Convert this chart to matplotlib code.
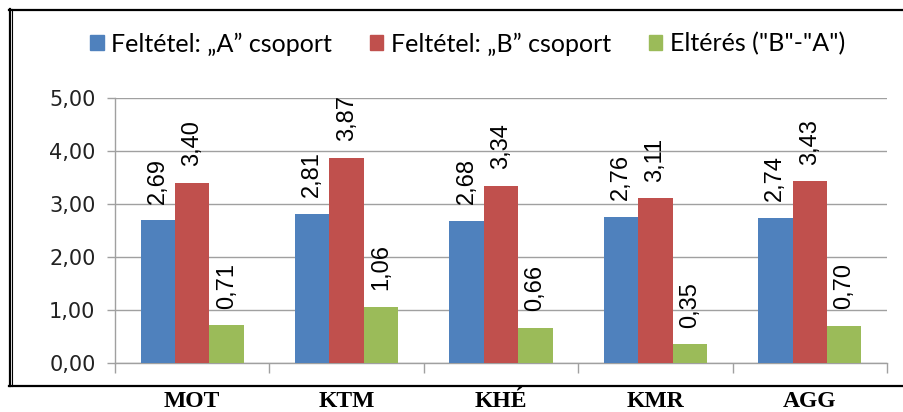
import numpy as np
import matplotlib.pyplot as plt
from matplotlib.lines import Line2D
from matplotlib.patches import Patch

categories = ["MOT", "KTM", "KHÉ", "KMR", "AGG"]
series_names = ["Feltétel: \u201eA\u201d csoport", "Feltétel: \u201eB\u201d csoport", 'Eltérés ("B"-"A")']
group_a = [2.69, 2.81, 2.68, 2.76, 2.74]
group_b = [3.40, 3.87, 3.34, 3.11, 3.43]
diff_ba = [0.71, 1.06, 0.66, 0.35, 0.70]
y_ticks = [0, 1, 2, 3, 4, 5]

colors = ["#4F81BD", "#C0504D", "#9BBB59"]
W, H = 904, 412

fig = plt.figure(figsize=(W / 100, H / 100), dpi=100)
ax = fig.add_axes([115 / W, 1 - 363 / H, (887 - 115) / W, (363 - 98) / H])

x = np.arange(len(categories))
width = 0.223
for i, (vals, name, col) in enumerate(zip([group_a, group_b, diff_ba], series_names, colors)):
    pos = x + (i - 1) * width
    ax.bar(pos, vals, width, color=col, label=name, zorder=3)
    for px, v in zip(pos, vals):
        ax.annotate(f"{v:.2f}".replace(".", ","), (px, v), xytext=(0, 12),
                    textcoords="offset points", rotation=90, ha="center", va="bottom",
                    fontsize=17, family="Liberation Sans", color="black")

ax.set_xlim(-0.5, len(categories) - 0.5)
ax.set_ylim(0, 5)
ax.set_yticks(y_ticks)
ax.set_yticklabels([f"{t:.2f}".replace(".", ",") for t in y_ticks],
                   fontsize=15, family="DejaVu Sans", color="#222222")
ax.grid(axis="y", color="#a0a0a0", linewidth=1, zorder=0)
ax.tick_params(axis="y", length=6, color="#a0a0a0", width=1, pad=8)

ax.set_xticks(x)
ax.set_xticklabels(categories, fontsize=17, family="Liberation Serif", fontweight="bold")
ax.set_xticks(np.arange(len(categories) + 1) - 0.5, minor=True)
ax.tick_params(axis="x", which="major", length=0, pad=20)
ax.tick_params(axis="x", which="minor", length=7, color="#a0a0a0", width=1)

for s in ["top", "right"]:
    ax.spines[s].set_visible(False)
for s in ["left", "bottom"]:
    ax.spines[s].set_color("#a0a0a0")
    ax.spines[s].set_linewidth(1)

handles = [Patch(color=c) for c in colors]
fig.legend(handles, series_names, loc="center", bbox_to_anchor=(467.5 / W, 1 - 44 / H),
           ncol=3, frameon=False, handlelength=0.55, handleheight=0.55, handletextpad=0.3,
           columnspacing=1.5, prop={"family": "Lato", "size": 18})

# outer chart frame
def fline(xs, ys, lw):
    fig.add_artist(Line2D([a / W for a in xs], [1 - b / H for b in ys],
                          color="black", linewidth=lw, transform=fig.transFigure))

fline([9, W], [9.5, 9.5], 1.6)
fline([9, W], [385.5, 385.5], 1.6)
fline([9.5, 9.5], [9, 386], 1.6)
fline([12.5, 12.5], [9, 386], 0.8)

fig.savefig("out.png", dpi=100)
